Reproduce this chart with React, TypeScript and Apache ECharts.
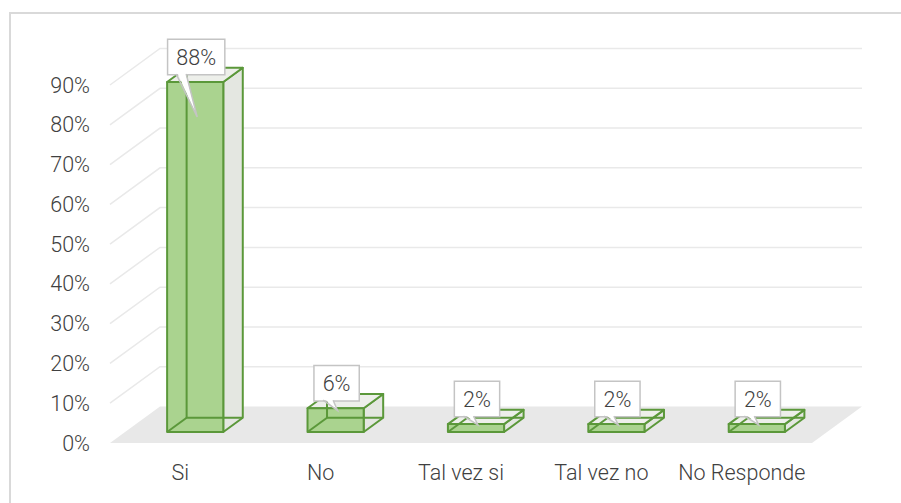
import React, { useEffect, useRef } from "react";
import * as echarts from "echarts";

const categories = ["Si", "No", "Tal vez si", "Tal vez no", "No Responde"];
const values = [88, 6, 2, 2, 2];
const gridValues = [10, 20, 30, 40, 50, 60, 70, 80, 90];
const yMin = 0;
const yMax = 90;
const yInterval = 10;

// 3D projection style constants (depth vector of the plot floor)
const DX = 50;
const DY = -36.5;
const A0 = 0.3; // bar front depth fraction
const A1 = 0.69; // bar back depth fraction

const FONT = "Roboto";
const FONT_SIZE = 21.5;
const TEXT_COLOR = "#404040";
const EDGE = "#5b983a";
const FRONT = "#aad38f";
const SIDE = "#e4e7e1";
const TOP = "#edefea";
const GRID = "#e9e9e9";
const FLOOR = "#e8e8e8";

export default function App() {
  const ref = useRef<HTMLDivElement>(null);

  useEffect(() => {
    document.body.style.margin = "0";
    if (!ref.current) return;
    const chart = echarts.init(ref.current, undefined, { renderer: "svg" });

    const barData = values.map((v, i) => [i, v]);
    const gridData = gridValues.map((v) => [0, v]);

    const renderFloor = (params: any, api: any) => {
      const cs = params.coordSys;
      const y0 = api.coord([0, 0])[1];
      const x0 = cs.x;
      const x1 = cs.x + cs.width;
      return {
        type: "polygon",
        shape: {
          points: [
            [x0, y0],
            [x1, y0],
            [x1 + DX, y0 + DY],
            [x0 + DX, y0 + DY],
          ],
        },
        style: { fill: FLOOR, stroke: null },
        silent: true,
      };
    };

    const renderGrid = (params: any, api: any) => {
      const cs = params.coordSys;
      const v = api.value(1);
      const y = api.coord([0, v])[1];
      const x0 = cs.x;
      const x1 = cs.x + cs.width;
      return {
        type: "polyline",
        shape: {
          points: [
            [x0, y],
            [x0 + DX, y + DY],
            [x1 + DX, y + DY],
          ],
        },
        style: { stroke: GRID, lineWidth: 1.5, fill: null },
        silent: true,
      };
    };

    const renderBar = (params: any, api: any) => {
      const i = api.value(0);
      const v = api.value(1);
      const [cx, y0] = api.coord([i, 0]);
      const yT = api.coord([i, v])[1];
      const bw = api.size([1, 0])[0];
      const hw = bw * 0.2;
      const fx = A0 * DX, fy = A0 * DY;
      const bx = A1 * DX, by = A1 * DY;
      const FLt = [cx - hw + fx, yT + fy];
      const FRt = [cx + hw + fx, yT + fy];
      const FLb = [cx - hw + fx, y0 + fy];
      const FRb = [cx + hw + fx, y0 + fy];
      const BLt = [cx - hw + bx, yT + by];
      const BRt = [cx + hw + bx, yT + by];
      const BLb = [cx - hw + bx, y0 + by];
      const BRb = [cx + hw + bx, y0 + by];
      const edgeStyle = { stroke: EDGE, lineWidth: 2, fill: null, lineJoin: "round" };
      return {
        type: "group",
        children: [
          {
            type: "polygon",
            shape: { points: [FRt, BRt, BRb, FRb] },
            style: { fill: SIDE, stroke: EDGE, lineWidth: 2, lineJoin: "round" },
          },
          {
            type: "polygon",
            shape: { points: [FLt, FRt, BRt, BLt] },
            style: { fill: TOP, stroke: EDGE, lineWidth: 2, lineJoin: "round" },
          },
          {
            type: "rect",
            shape: { x: FLt[0], y: FLt[1], width: 2 * hw, height: y0 - yT },
            style: { fill: FRONT, stroke: null },
          },
          {
            type: "polyline",
            shape: { points: [BLt, BLb, BRb] },
            style: edgeStyle,
          },
          {
            type: "polyline",
            shape: { points: [FLb, BLb] },
            style: edgeStyle,
          },
          {
            type: "rect",
            shape: { x: FLt[0], y: FLt[1], width: 2 * hw, height: y0 - yT },
            style: edgeStyle,
          },
        ],
      };
    };

    const renderLabel = (params: any, api: any) => {
      const i = api.value(0);
      const v = api.value(1);
      const [cx] = api.coord([i, 0]);
      const yT = api.coord([i, v])[1];
      const fx = A0 * DX, fy = A0 * DY;
      const centerX = cx + fx + 1;
      const boxBottom = yT + fy - 8;
      const tipY = api.coord([i, v * 0.9])[1] + fy;
      const text = `${v}%`;
      const approxW = text.length === 3 ? 41 : 28;
      const boxW = approxW + 17;
      const boxLeft = centerX - boxW / 2;
      const bL = boxLeft + 9;
      const bR = boxLeft + 19;
      return {
        type: "group",
        children: [
          {
            type: "text",
            x: centerX,
            y: boxBottom,
            style: {
              text,
              fill: TEXT_COLOR,
              fontFamily: FONT,
              fontSize: FONT_SIZE,
              fontWeight: 300,
              align: "center",
              verticalAlign: "bottom",
              backgroundColor: "#ffffff",
              borderColor: "#c4c4c4",
              borderWidth: 1.5,
              padding: [4, 8, 4, 8],
              lineHeight: 26,
            },
          },
          {
            type: "polygon",
            shape: {
              points: [
                [bL + 0.8, boxBottom - 2],
                [bR - 0.8, boxBottom - 2],
                [centerX + 1, tipY],
              ],
            },
            style: { fill: "#ffffff", stroke: null },
          },
          {
            type: "polyline",
            shape: {
              points: [
                [bL, boxBottom],
                [centerX + 1, tipY],
                [bR, boxBottom],
              ],
            },
            style: { stroke: "#c4c4c4", lineWidth: 1.5, fill: null },
          },
        ],
      };
    };

    chart.setOption({
      animation: false,
      backgroundColor: "#ffffff",
      graphic: [
        {
          type: "rect",
          shape: { x: 10, y: 13, width: 1000, height: 600 },
          style: { fill: null, stroke: "#d9d9d9", lineWidth: 2 },
          silent: true,
          z: 0,
        },
      ],
      grid: { left: 110, right: 89, top: 85, bottom: 60, containLabel: false },
      xAxis: {
        type: "category",
        data: categories,
        axisLine: { show: false },
        axisTick: { show: false },
        splitLine: { show: false },
        axisLabel: {
          color: TEXT_COLOR,
          fontFamily: FONT,
          fontWeight: 300,
          fontSize: FONT_SIZE,
          margin: 18,
          interval: 0,
        },
      },
      yAxis: {
        type: "value",
        min: yMin,
        max: yMax,
        interval: yInterval,
        axisLine: { show: false },
        axisTick: { show: false },
        splitLine: { show: false },
        axisLabel: {
          formatter: "{value}%",
          color: TEXT_COLOR,
          fontFamily: FONT,
          fontWeight: 300,
          fontSize: FONT_SIZE,
          margin: 20,
        },
      },
      series: [
        {
          type: "custom",
          renderItem: renderFloor,
          data: [[0, 0]],
          encode: { x: 0, y: 1 },
          z: 1,
          silent: true,
        },
        {
          type: "custom",
          renderItem: renderGrid,
          data: gridData,
          encode: { x: 0, y: 1 },
          z: 2,
          silent: true,
        },
        {
          type: "custom",
          renderItem: renderBar,
          data: barData,
          encode: { x: 0, y: 1 },
          z: 3,
        },
        {
          type: "custom",
          renderItem: renderLabel,
          data: barData,
          encode: { x: 0, y: 1 },
          z: 4,
        },
      ],
    });

    return () => chart.dispose();
  }, []);

  return <div ref={ref} style={{ width: 901, height: 503 }} />;
}
